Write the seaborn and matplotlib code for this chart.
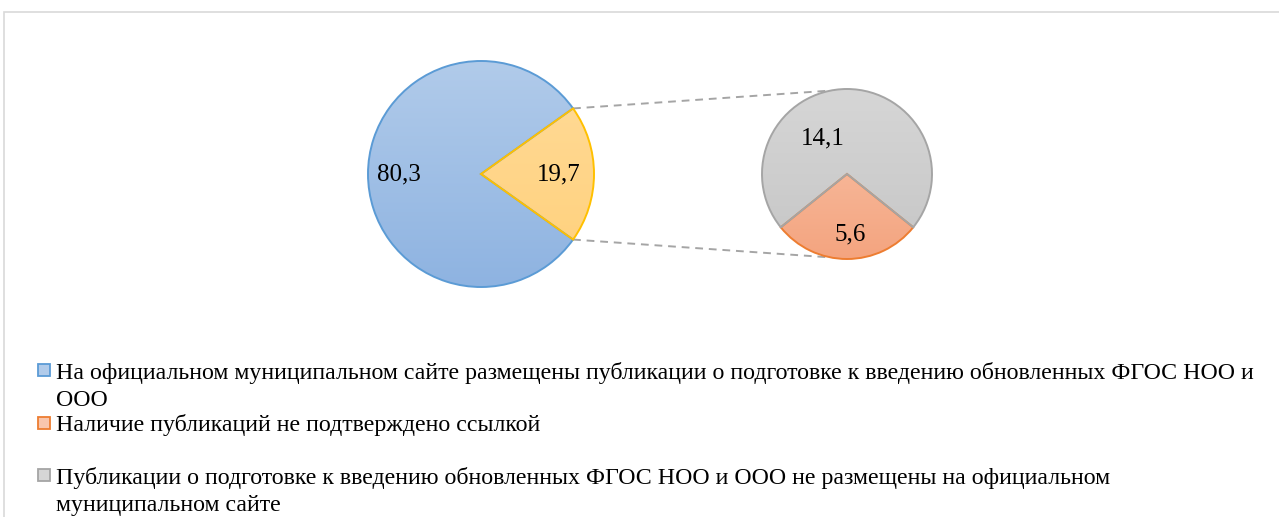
import numpy as np
import seaborn as sns
import matplotlib.pyplot as plt
from matplotlib.patches import Rectangle

# Data
main_values = [19.7, 80.3]          # split slice (yellow), blue slice
sub_values = [5.6, 14.1]            # orange, grey
legend_labels = [
    "На официальном муниципальном сайте размещены публикации о подготовке к введению обновленных ФГОС НОО и\nООО",
    "Наличие публикаций не подтверждено ссылкой",
    "Публикации о подготовке к введению обновленных ФГОС НОО и ООО не размещены на официальном\nмуниципальном сайте",
]

sns.set_theme(style="white")
plt.rcParams['font.family'] = ['Liberation Serif', 'DejaVu Serif']

# Colours: (gradient top, gradient bottom, edge)
main_colors = [("#ffdb99", "#ffd07a", "#ffc000"), ("#b1cbea", "#8eb3e1", "#5b9bd5")]
sub_colors = [("#f9c6ad", "#f4a47f", "#ed7d31"), ("#d6d6d6", "#c6c6c6", "#a5a5a5")]

W, H = 1279, 517
fig = plt.figure(figsize=(W / 100, H / 100), dpi=100)
ax = fig.add_axes([0, 0, 1, 1])

c_main, r_main = (481, 343), 113
c_sub, r_sub = (847, 343), 85

start_main = -main_values[0] / sum(main_values) * 360 / 2
start_sub = 270 - sub_values[0] / sum(sub_values) * 360 / 2


def draw_pie(values, center, radius, start, colors, zorders):
    wedges, _ = ax.pie(values, center=center, radius=radius, startangle=start,
                       colors=[c[0] for c in colors],
                       wedgeprops=dict(linewidth=1.4))
    for w, (top, bot, edge), z in zip(wedges, colors, zorders):
        w.set_edgecolor(edge)
        w.set_facecolor("none")
        w.set_zorder(z)
        cmap = sns.blend_palette([bot, top], as_cmap=True)
        grad = np.linspace(0, 1, 256).reshape(-1, 1)
        im = ax.imshow(grad, cmap=cmap, origin="lower", aspect="auto",
                       extent=(center[0] - radius, center[0] + radius,
                               center[1] - radius, center[1] + radius),
                       zorder=2)
        im.set_clip_path(w)
    return wedges


main_w = draw_pie(main_values, c_main, r_main, start_main, main_colors, [4, 3])
sub_w = draw_pie(sub_values, c_sub, r_sub, start_sub, sub_colors, [3, 4])

# Connector lines between the split slice and the secondary pie
for a_main, a_sub in [(main_w[0].theta2, 101), (main_w[0].theta1, 259)]:
    x0 = c_main[0] + r_main * np.cos(np.radians(a_main))
    y0 = c_main[1] + r_main * np.sin(np.radians(a_main))
    x1 = c_sub[0] + r_sub * np.cos(np.radians(a_sub))
    y1 = c_sub[1] + r_sub * np.sin(np.radians(a_sub))
    ax.plot([x0, x1], [y0, y1], color="#a5a5a5", lw=1.4, ls=(0, (4, 3)), zorder=1)

# Data labels
fmt = lambda v: f"{v:.1f}".replace(".", ",")
label_pos = [  # (angle, distance ratio, centre, radius, value)
    (180, 0.73, c_main, r_main, main_values[1]),
    (0, 0.69, c_main, r_main, main_values[0]),
    (124, 0.50, c_sub, r_sub, sub_values[1]),
    (273, 0.71, c_sub, r_sub, sub_values[0]),
]
for ang, d, c, r, v in label_pos:
    ax.text(c[0] + d * r * np.cos(np.radians(ang)), c[1] + d * r * np.sin(np.radians(ang)),
            fmt(v), ha="center", va="center", fontsize=18, color="black", zorder=5)

ax.set_xlim(0, W)
ax.set_ylim(0, H)
ax.set_aspect("equal")
ax.axis("off")

# Legend (manual, Excel-like wrapping)
leg_colors = [main_colors[1], sub_colors[0], sub_colors[1]]
leg_y = [370, 423, 475]
line_step = 28
for lab, (top, bot, edge), y in zip(legend_labels, leg_colors, leg_y):
    fig.add_artist(Rectangle((38 / W, 1 - (y + 6) / H), 12 / W, 12 / H,
                             facecolor=top, edgecolor=edge, lw=1.3,
                             transform=fig.transFigure))
    base = y + 8 + line_step * lab.count("\n")
    fig.text(56 / W, 1 - base / H, lab, ha="left", va="baseline",
             fontsize=17.2, linespacing=1.35, color="black")

# Chart area border
fig.add_artist(Rectangle((4 / W, -0.1), 1.2, 1 - 12 / H + 0.1, facecolor="none",
                         edgecolor="#d9d9d9", lw=1.2, transform=fig.transFigure))

fig.savefig("out.png", dpi=100)
